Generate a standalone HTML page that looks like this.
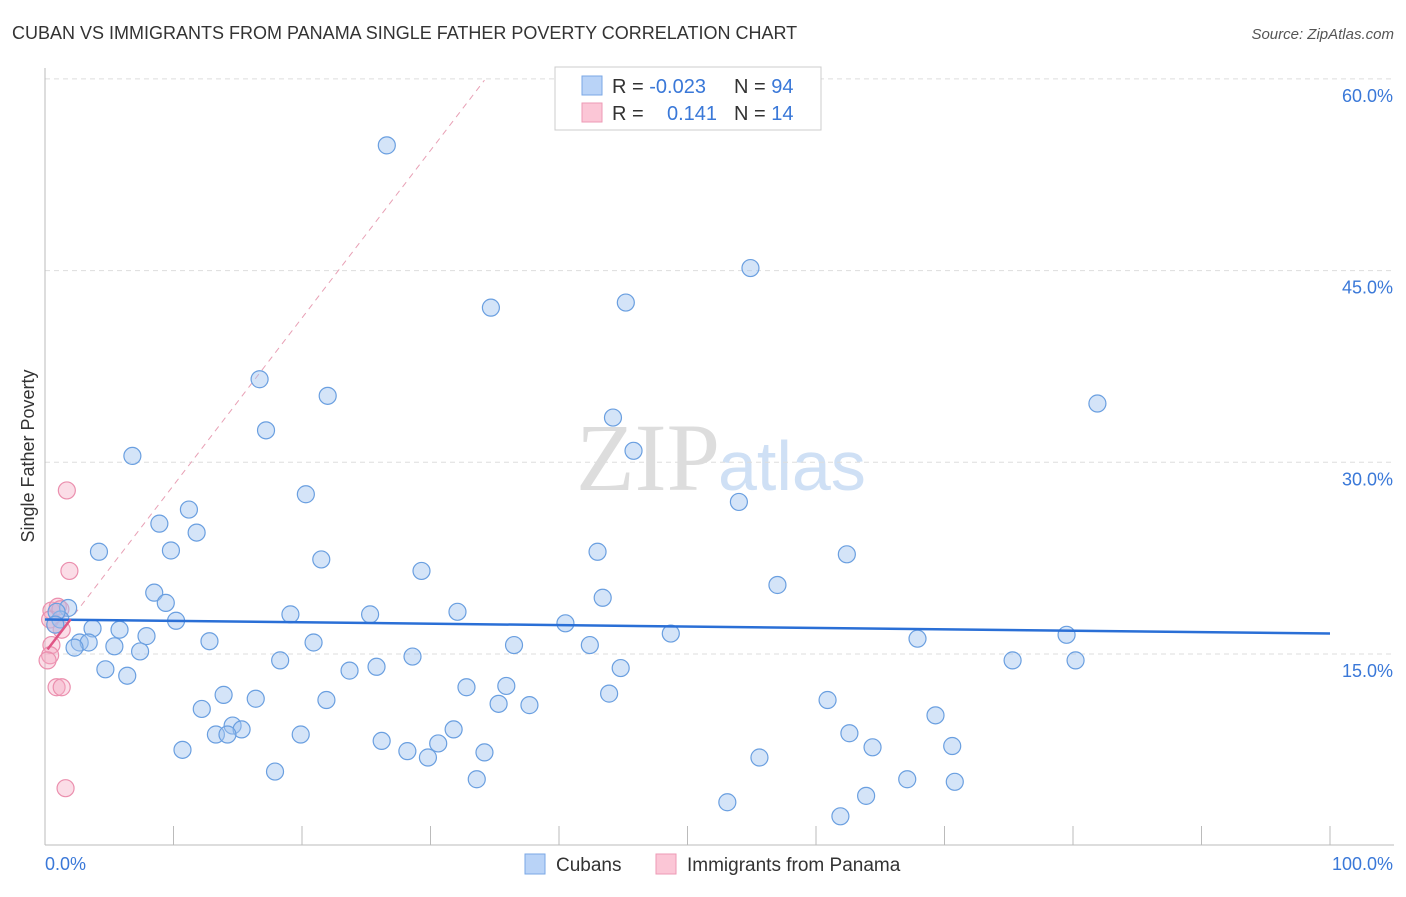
<!DOCTYPE html>
<html><head><meta charset="utf-8"><style>
body{margin:0;background:#fff;font-family:"Liberation Sans",sans-serif}
</style></head><body>
<svg id="c" width="1406" height="892" xmlns="http://www.w3.org/2000/svg">
<text x="12" y="39" font-size="18" fill="#333">CUBAN VS IMMIGRANTS FROM PANAMA SINGLE FATHER POVERTY CORRELATION CHART</text>
<text x="1394" y="39" font-size="15" fill="#555" font-style="italic" text-anchor="end">Source: ZipAtlas.com</text>
<text x="34" y="456" font-size="18" fill="#333" text-anchor="middle" transform="rotate(-90 34 456)">Single Father Poverty</text>
<text x="720" y="490" font-size="96" fill="#ddd" text-anchor="end" font-family="Liberation Serif">ZIP</text>
<text x="718" y="490" font-size="70" fill="#cfe0f5">atlas</text>
<g id="grid"></g><g id="marks"></g>
<g>
<rect x="555" y="67" width="266" height="63" fill="#fff" stroke="#ccc"/>
<rect x="582" y="76" width="20" height="19" fill="#b9d3f7" stroke="#7aa7e6"/>
<rect x="582" y="103" width="20" height="19" fill="#fbc6d6" stroke="#ee9ab5"/>
<text x="612" y="93" font-size="20" fill="#333">R = <tspan fill="#3a78d8">-0.023</tspan><tspan x="734">N = </tspan><tspan fill="#3a78d8">94</tspan></text>
<text x="612" y="120" font-size="20" fill="#333">R = <tspan x="667" fill="#3a78d8">0.141</tspan><tspan x="734">N = </tspan><tspan fill="#3a78d8"> 14</tspan></text>
</g>
<g>
<rect x="525" y="854" width="20" height="20" fill="#b9d3f7" stroke="#7aa7e6"/>
<text x="556" y="871" font-size="19" fill="#333">Cubans</text>
<rect x="656" y="854" width="20" height="20" fill="#fbc6d6" stroke="#ee9ab5"/>
<text x="687" y="871" font-size="19" fill="#333">Immigrants from Panama</text>
</g>
</svg>
<script>
const yTicks=[15,30,45,60];
const yTickLabels=["15.0%","30.0%","45.0%","60.0%"];
const xEndLabels=["0.0%","100.0%"];
const cubanX=[26.6,54.9,34.7,45.2,58.6,16.7,22.0,17.2,81.9,44.2,45.8,6.8,20.3,54.0,11.2,8.9,11.8,9.8,4.2,43.0,62.4,21.5,29.3,57.0,8.5,43.4,9.4,1.8,32.1,19.1,25.3,10.2,40.5,3.7,5.8,1.2,7.9,48.7,79.5,12.8,67.9,2.7,3.4,2.3,5.4,20.9,36.5,42.4,7.4,28.6,18.3,75.3,80.2,4.7,25.8,23.7,44.8,6.4,32.8,35.9,13.9,43.9,16.4,21.9,60.9,35.3,37.7,12.2,69.3,14.6,31.8,15.3,62.6,13.3,14.2,19.9,26.2,30.6,64.4,70.6,10.7,28.2,34.2,29.8,55.6,17.9,33.6,67.1,70.8,63.9,53.1,61.9,0.9,0.8];
const cubanY=[54.8,45.2,42.1,42.5,59.3,36.5,35.2,32.5,34.6,33.5,30.9,30.5,27.5,26.9,26.3,25.2,24.5,23.1,23.0,23.0,22.8,22.4,21.5,20.4,19.8,19.4,19.0,18.6,18.3,18.1,18.1,17.6,17.4,17.0,16.9,17.7,16.4,16.6,16.5,16.0,16.2,15.9,15.9,15.5,15.6,15.9,15.7,15.7,15.2,14.8,14.5,14.5,14.5,13.8,14.0,13.7,13.9,13.3,12.4,12.5,11.8,11.9,11.5,11.4,11.4,11.1,11.0,10.7,10.2,9.4,9.1,9.1,8.8,8.7,8.7,8.7,8.2,8.0,7.7,7.8,7.5,7.4,7.3,6.9,6.9,5.8,5.2,5.2,5.0,3.9,3.4,2.3,18.3,17.3];
const panamaX=[1.7,1.9,1.6,0.9,1.3,0.5,1.0,0.4,1.3,0.5,0.4,0.2,1.2,0.8];
const panamaY=[27.8,21.5,4.5,12.4,12.4,18.4,18.7,17.7,16.9,15.7,14.9,14.5,18.5,17.3];
const cubanTrend=[17.7,16.6];
const panamaTrend=[15.1,1.31];
const X=v=>45+v*12.85, Y=v=>845.7-v*12.78;
const NS="http://www.w3.org/2000/svg";
function mk(p,t,a){const e=document.createElementNS(NS,t);for(const k in a)e.setAttribute(k,a[k]);p.appendChild(e);return e;}
const g=document.getElementById('grid'), m=document.getElementById('marks');
yTicks.forEach((t,i)=>{
 const l=mk(g,'line',{x1:45,x2:1394,y1:Y(t),y2:Y(t),stroke:'#ddd','stroke-dasharray':'5,4'});
 
 
 const tx=mk(g,'text',{x:1393,y:Y(t)+23,'font-size':18,fill:'#3a78d8','text-anchor':'end'});
 tx.textContent=yTickLabels[i];
 
 
});
const ax=mk(g,'line',{x1:45,x2:1394,y1:845,y2:845,stroke:'#bbb'});


const ay=mk(g,'line',{x1:45,x2:45,y1:68,y2:845,stroke:'#bbb'});


for(let i=0;i<=10;i++){const t=mk(g,'line',{x1:X(i*10),x2:X(i*10),y1:826,y2:845,stroke:'#bbb'});
 
 }
[[0,'start',45],[1,'end',1393]].forEach(([i,a,x])=>{const t=mk(g,'text',{x:x,y:870,'font-size':18,fill:'#3a78d8','text-anchor':a});t.textContent=xEndLabels[i];
 
 });
const pd=mk(m,'line',{x1:X(0.2),y1:Y(panamaTrend[0]+panamaTrend[1]*0.2),x2:X(34.2),y2:Y(panamaTrend[0]+panamaTrend[1]*34.2),stroke:'#e8a0b5','stroke-dasharray':'6,5','stroke-width':1});


panamaX.forEach((x,i)=>{const c=mk(m,'circle',{cx:X(x),cy:Y(panamaY[i]),r:8.5,fill:'rgba(246,170,195,0.4)',stroke:'#eb8fae','stroke-width':1.2});
 
 });
cubanX.forEach((x,i)=>{const c=mk(m,'circle',{cx:X(x),cy:Y(cubanY[i]),r:8.5,fill:'rgba(160,196,240,0.45)',stroke:'#6a9fe0','stroke-width':1.2});
 
 });
const bt=mk(m,'line',{x1:X(0),y1:Y(cubanTrend[0]),x2:X(100),y2:Y(cubanTrend[1]),stroke:'#2a6fd6','stroke-width':2.5});


const pt=mk(m,'line',{x1:X(0.2),y1:Y(panamaTrend[0]+panamaTrend[1]*0.2),x2:X(2),y2:Y(panamaTrend[0]+panamaTrend[1]*2),stroke:'#e05585','stroke-width':2.5});


</script>
</body></html>
